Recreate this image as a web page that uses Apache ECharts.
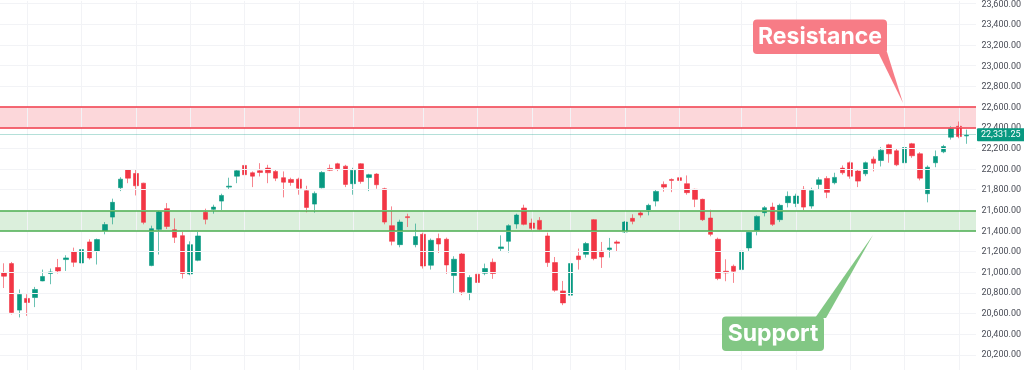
<!DOCTYPE html>
<html>
<head>
<meta charset="utf-8">
<script src="https://cdn.jsdelivr.net/npm/echarts@6/dist/echarts.min.js"></script>
<style>html,body{margin:0;padding:0;background:#fff}#c{width:1024px;height:370px}</style>
</head>
<body>
<div id="c"></div>
<script>
// ---- data ----
const openP = [21000,21087,20636,20749,20758,20919,20991,21049,21126,21200,21093,21297,21207,21400,21538,21823,21997,21961,21867,21068,21419,21620,21416,21358,20987,21119,21584,21613,21693,21829,21935,22039,21968,21987,22013,21981,21920,21903,21906,21794,21664,21823,22010,22055,22032,21862,22055,21923,21955,21813,21455,21271,21542,21271,21371,21071,21330,21323,20971,21180,20807,20984,20994,21100,21233,21303,21471,21626,21480,21506,21355,21097,20822,20781,21161,21177,21513,21207,21223,21297,21393,21526,21578,21597,21693,21855,21903,21920,21862,21807,21710,21529,21323,21013,21061,21029,21239,21410,21581,21635,21513,21678,21671,21807,21645,21855,21913,21871,22013,22065,21984,21958,22100,22087,22239,22181,22065,22249,22152,21765,22065,22171,22313,22419,22325];
const closeP = [20965,20613,20787,20710,20836,20962,21006,21016,21142,21100,21223,21142,21320,21465,21681,21906,21916,21842,21487,21426,21587,21448,21342,20991,21271,21355,21516,21635,21748,21838,21987,21949,21935,21971,21968,21916,21877,21874,21819,21632,21768,21971,21993,22007,21855,21993,21884,21949,21852,21490,21303,21490,21533,21349,21064,21313,21277,21074,21129,20813,20952,20904,21039,20991,21249,21455,21558,21468,21429,21419,21097,20829,20706,21087,21126,21281,21136,21151,21239,21284,21490,21497,21558,21652,21787,21829,21894,21894,21775,21710,21513,21371,20942,20997,21013,21207,21390,21545,21629,21468,21652,21739,21742,21635,21794,21900,21778,21923,21968,21935,21887,22065,22061,22187,22152,22045,22213,22133,21916,22022,22126,22223,22394,22319,22331.25];
const lowP = [20850,20594,20565,20580,20665,20916,20887,20991,21016,21055,21032,21126,21078,21371,21468,21790,21867,21748,21468,21061,21175,21422,21287,20942,20974,21110,21468,21571,21600,21804,21867,21858,21829,21932,21867,21887,21729,21842,21755,21584,21581,21816,21984,21984,21829,21755,21862,21790,21813,21468,21264,21245,21442,21245,21039,21029,21190,20987,20797,20781,20732,20887,20974,20939,21200,21194,21426,21458,21413,21410,21055,20813,20684,20765,21029,21145,21119,21045,21145,21200,21384,21468,21533,21555,21642,21784,21780,21884,21755,21635,21500,21352,20926,20916,20900,20974,21210,21361,21545,21452,21490,21632,21635,21603,21620,21804,21722,21855,21949,21910,21829,21935,21981,22029,22065,22032,22039,22113,21894,21681,22022,22158,22290,22303,22249];
const highP = [21090,21103,20836,20790,20861,21029,21039,21132,21168,21242,21242,21323,21330,21490,21717,21925,22003,22000,21871,21455,21597,21674,21526,21397,21303,21394,21620,21658,21765,21920,22000,22045,21981,22061,22045,22000,21981,21920,21920,21842,21787,21984,22048,22065,22045,22016,22061,21958,21964,21823,21642,21513,21571,21475,21387,21330,21378,21339,21158,21190,20974,21006,21087,21136,21361,21468,21571,21658,21523,21538,21387,21151,20919,21100,21233,21297,21519,21297,21336,21313,21500,21565,21603,21668,21804,21884,21913,21942,21942,21813,21717,21610,21339,21129,21078,21223,21400,21555,21645,21678,21668,21787,21765,21839,21823,21925,21935,21968,22039,22077,22000,22077,22126,22216,22249,22200,22249,22258,22168,22039,22184,22239,22419,22465,22387];
const categories = openP.map((_, i) => String(i + 1));
const lastPrice = 22331.25;
const resistance = [22400, 22600];
const support = [21400, 21600];
const yTicks = [20200,20400,20600,20800,21000,21200,21400,21600,21800,22000,22200,22400,22600,22800,23000,23200,23400,23600];
const yMin = 20055, yMax = 23635;
const vGridIdx = [3,10,17,24,31,38,45,54,61,68,73,80,87,95,102,109,116,123];

const fmt = v => v.toLocaleString('en-US', {minimumFractionDigits: 2, maximumFractionDigits: 2});
const candles = openP.map((o, i) => [o, closeP[i], lowP[i], highP[i]]);

const GREEN = '#089981', RED = '#f23645', GRIDC = '#f2f3f6';
const chart = echarts.init(document.getElementById('c'), null, {renderer: 'canvas'});

chart.setOption({
  animation: false,
  backgroundColor: '#ffffff',
  grid: [
    {left: 0, width: 972, top: 0, height: 370},
    {left: 0, width: 976, top: 0, height: 370}
  ],
  xAxis: [
    {type: 'category', gridIndex: 0, data: categories, boundaryGap: true, show: false},
    {type: 'value', gridIndex: 1, min: 0, max: 1, show: false}
  ],
  yAxis: [
    {type: 'value', gridIndex: 0, position: 'right', min: yMin, max: yMax,
     axisLine: {show: false}, axisTick: {show: false}, splitLine: {show: false},
     axisLabel: {margin: 11, fontSize: 9, fontFamily: 'Roboto', color: '#4a4d57', formatter: fmt,
                 customValues: yTicks, showMinLabel: true, showMaxLabel: true}},
    {type: 'value', gridIndex: 1, position: 'right', min: yMin, max: yMax,
     axisLine: {show: false}, axisTick: {show: false}, axisLabel: {show: false}, splitLine: {show: false}}
  ],
  series: [
    {
      type: 'line', xAxisIndex: 0, yAxisIndex: 0, data: [], z: 0, silent: true,
      markLine: {symbol: ['none', 'none'], silent: true, label: {show: false},
        lineStyle: {color: GRIDC, width: 1, type: 'solid'},
        data: vGridIdx.map(i => ({xAxis: categories[i]}))}
    },
    {
      type: 'line', xAxisIndex: 1, yAxisIndex: 1, data: [], z: 0, silent: true,
      markLine: {symbol: ['none', 'none'], silent: true, label: {show: false},
        lineStyle: {color: GRIDC, width: 1, type: 'solid'},
        data: yTicks.map(v => ({yAxis: v}))}
    },
    {
      type: 'line', xAxisIndex: 1, yAxisIndex: 1, data: [], z: 1, silent: true,
      markArea: {silent: true, data: [
        [{yAxis: resistance[0], itemStyle: {color: 'rgba(242,54,69,0.2)'}}, {yAxis: resistance[1]}],
        [{yAxis: support[0], itemStyle: {color: 'rgba(76,175,80,0.2)'}}, {yAxis: support[1]}]
      ]},
      markLine: {symbol: ['none', 'none'], silent: true, label: {show: false}, data: [
        {yAxis: resistance[0], lineStyle: {color: RED, width: 1.5, type: 'solid'}},
        {yAxis: resistance[1], lineStyle: {color: RED, width: 1.5, type: 'solid'}},
        {yAxis: support[0], lineStyle: {color: '#4caf50', width: 1.5, type: 'solid'}},
        {yAxis: support[1], lineStyle: {color: '#4caf50', width: 1.5, type: 'solid'}},
        {yAxis: lastPrice, lineStyle: {color: 'rgba(8,153,129,0.3)', width: 1, type: 'solid'},
         label: {show: true, position: 'end', distance: 1, formatter: fmt(lastPrice),
                 backgroundColor: GREEN, color: '#ffffff', fontSize: 9, fontFamily: 'Roboto',
                 padding: [2, 4, 2, 4], borderRadius: 1}}
      ]}
    },
    {
      type: 'candlestick', xAxisIndex: 0, yAxisIndex: 0, data: candles, z: 3, barWidth: 5,
      itemStyle: {color: GREEN, color0: RED,
        borderColor: 'rgba(8,153,129,0.6)', borderColor0: 'rgba(242,54,69,0.6)', borderWidth: 1}
    }
  ],
  graphic: [
    {type: 'polygon', shape: {points: [[878, 52], [887, 52], [903, 103]]}, style: {fill: '#f77c86'}, z: 10},
    {type: 'rect', shape: {x: 753, y: 19.5, width: 134, height: 34.5, r: 4}, style: {fill: '#f77c86'}, z: 10},
    {type: 'text', x: 820, y: 37, z: 11, style: {text: 'Resistance', fill: '#ffffff', font: 'bold 23px Inter', align: 'center', verticalAlign: 'middle'}},
    {type: 'polygon', shape: {points: [[815, 318], [826, 318], [873, 235]]}, style: {fill: '#82c784'}, z: 10},
    {type: 'rect', shape: {x: 722, y: 316.5, width: 102, height: 34.5, r: 4}, style: {fill: '#82c784'}, z: 10},
    {type: 'text', x: 773, y: 334, z: 11, style: {text: 'Support', fill: '#ffffff', font: 'bold 23px Inter', align: 'center', verticalAlign: 'middle'}}
  ]
});
</script>
</body>
</html>
